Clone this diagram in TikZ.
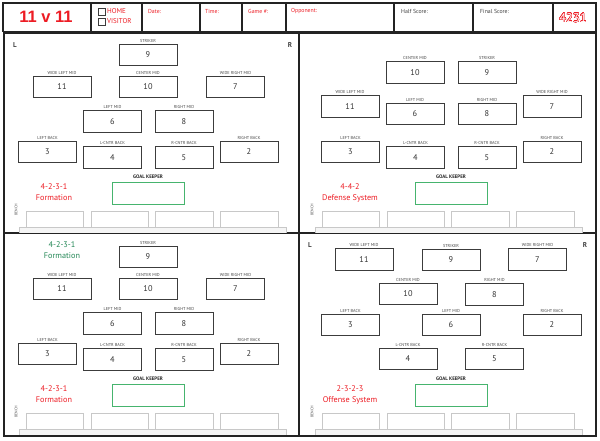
\documentclass[tikz,border=0pt]{standalone}
\usepackage{fontspec}
\setmainfont{PT Sans}
\newfontfamily\titlefont{Liberation Sans}
\usepackage{contour}
\contourlength{0.3pt}
\contournumber{24}
\definecolor{fred}{RGB}{237,28,36}
\definecolor{fgreen}{RGB}{70,180,110}
\definecolor{tgreen}{RGB}{35,135,85}
\definecolor{boxgray}{RGB}{60,60,60}
\definecolor{labgray}{RGB}{70,70,70}
\definecolor{benchgray}{RGB}{200,200,200}
\definecolor{framegray}{RGB}{35,35,35}
\tikzset{
  pbox/.style={draw=boxgray,line width=0.7pt,minimum width=58pt,minimum height=21.5pt,inner sep=0pt,
    font=\fontsize{8.3}{8}\selectfont,text=black!80},
  plabel/.style={font=\fontsize{4.3}{4.5}\selectfont,text=labgray,inner sep=0.5pt},
  gkbox/.style={draw=fgreen,line width=0.8pt,minimum width=72pt,minimum height=22pt,inner sep=0pt},
  gklabel/.style={font=\bfseries\fontsize{5}{5}\selectfont,text=black!85,inner sep=0.5pt},
  formtext/.style={align=center,font=\fontsize{8.2}{11}\selectfont,inner sep=0pt},
  benchbox/.style={draw=benchgray,line width=0.6pt,fill=white},
  benchbar/.style={draw=benchgray,line width=0.6pt,fill=black!4},
  benchtxt/.style={font=\fontsize{3.7}{4}\selectfont,text=labgray,rotate=90,inner sep=0pt},
  hdrtxt/.style={font=\fontsize{5.8}{6}\selectfont,anchor=west,inner sep=0pt},
  lrtxt/.style={font=\bfseries\fontsize{7}{7}\selectfont,text=black!75,inner sep=0pt},
  frame/.style={draw=framegray,line width=1.3pt},
}
\newcommand\pb[5]{\node[pbox,label={[plabel,label distance=0.8pt]above:#4}] (#1) at (#2,#3) {#5};}
\newcommand\gk[3]{\node[gkbox,label={[gklabel,label distance=2pt]above:GOAL KEEPER}] (#1) at (#2,#3) {};}
\newcommand\bench[3]{% name, x-offset, y-offset
  \begin{scope}[shift={(#2,#3)}]
    \draw[benchbox] (26,227) -- (26,211) -- (83,211) -- (83,227);
    \draw[benchbox] (91,227) -- (91,211) -- (148,211) -- (148,227);
    \draw[benchbox] (155,227) -- (155,211) -- (213,211) -- (213,227);
    \draw[benchbox] (220,227) -- (220,211) -- (278,211) -- (278,227);
    \draw[benchbar] (19,232.5) -- (19,227) -- (286,227) -- (286,232.5);
    \node[benchtxt] (#1) at (16,210) {BENCH};
  \end{scope}}
\begin{document}
\begin{tikzpicture}[x=1pt,y=-1pt]
\useasboundingbox[fill=white] (0,0) rectangle (600,440);

% ---------- header ----------
\draw[frame] (3,3) rectangle (596,31.5);
\foreach \xx in {91,142,200,242,286,394,473,553} \draw[frame] (\xx,3) -- (\xx,31.5);
\node[font=\titlefont\bfseries\fontsize{16.5}{16}\selectfont,text=fred] (title) at (46,16.5) {11\hspace{4.5pt}v\hspace{4.5pt}11};
\node[draw=boxgray,line width=0.5pt,minimum size=7pt,inner sep=0pt] (homebox) at (102,11.5) {};
\node[draw=boxgray,line width=0.5pt,minimum size=7pt,inner sep=0pt] (visbox) at (102,21.5) {};
\node[font=\fontsize{7}{7}\selectfont,text=fred,anchor=west,inner sep=0pt] (home) at (107,11.5) {HOME};
\node[font=\fontsize{7}{7}\selectfont,text=fred,anchor=west,inner sep=0pt] (visitor) at (107,21.5) {VISITOR};
\node[hdrtxt,text=fred] (date) at (148,11) {Date:};
\node[hdrtxt,text=fred] (time) at (205,11) {Time:};
\node[hdrtxt,text=fred] (game) at (248,11) {Game \#:};
\node[hdrtxt,text=fred] (opp) at (291,11) {Opponent:};
\node[hdrtxt,text=black!75] (half) at (401,11) {Half Score:};
\node[hdrtxt,text=black!75] (final) at (480,11) {Final Score:};
\node[font=\fontsize{12.5}{12}\selectfont,inner sep=0pt] (num) at (573,18) {\contour{fred}{\textcolor{white}{4231}}};

% ---------- quadrant frame ----------
\draw[frame] (4,33) rectangle (596,436);
\draw[frame] (299,33) -- (299,436);
\draw[frame] (4,233) -- (596,233);

% ---------- benches ----------
\bench{benchTL}{0}{0}
\bench{benchTR}{296}{0}
\bench{benchBL}{0}{202}
\bench{benchBR}{296}{202}

% ---------- top-left ----------
\node[lrtxt] (tlL) at (15,45) {L};
\node[lrtxt] (tlR) at (290,45) {R};
\pb{tl9}{148}{55}{STRIKER}{9}
\pb{tl11}{62}{87}{WIDE LEFT MID}{11}
\pb{tl10}{148}{87}{CENTER MID}{10}
\pb{tl7}{235.5}{87}{WIDE RIGHT MID}{7}
\pb{tl6}{112.5}{121.5}{LEFT MID}{6}
\pb{tl8}{184}{121.5}{RIGHT MID}{8}
\pb{tl3}{47.5}{152}{LEFT BACK}{3}
\pb{tl4}{112.5}{157.5}{L-CNTR BACK}{4}
\pb{tl5}{184}{157.5}{R-CNTR BACK}{5}
\pb{tl2}{249}{152}{RIGHT BACK}{2}
\gk{tlgk}{148}{193}
\node[formtext,text=fred] (tlform) at (54,192.5) {4-2-3-1\\Formation};

% ---------- top-right ----------
\pb{tr10}{415}{72.5}{CENTER MID}{10}
\pb{tr9}{487}{72.5}{STRIKER}{9}
\pb{tr11}{350}{106.5}{WIDE LEFT MID}{11}
\pb{tr7}{552}{106.5}{WIDE RIGHT MID}{7}
\pb{tr6}{415}{114}{LEFT MID}{6}
\pb{tr8}{487}{114}{RIGHT MID}{8}
\pb{tr3}{350.5}{152}{LEFT BACK}{3}
\pb{tr4}{415.5}{157.5}{L-CNTR BACK}{4}
\pb{tr5}{487}{157.5}{R-CNTR BACK}{5}
\pb{tr2}{552}{152}{RIGHT BACK}{2}
\gk{trgk}{451}{193}
\node[formtext,text=fred] (trform) at (350,192.5) {4-4-2\\Defense System};

% ---------- bottom-left ----------
\node[formtext,text=tgreen] (blform1) at (62,250) {4-2-3-1\\Formation};
\pb{bl9}{148}{257}{STRIKER}{9}
\pb{bl11}{62}{289}{WIDE LEFT MID}{11}
\pb{bl10}{148}{289}{CENTER MID}{10}
\pb{bl7}{235.5}{289}{WIDE RIGHT MID}{7}
\pb{bl6}{112.5}{323.5}{LEFT MID}{6}
\pb{bl8}{184}{323.5}{RIGHT MID}{8}
\pb{bl3}{47.5}{354}{LEFT BACK}{3}
\pb{bl4}{112.5}{359.5}{L-CNTR BACK}{4}
\pb{bl5}{184}{359.5}{R-CNTR BACK}{5}
\pb{bl2}{249}{354}{RIGHT BACK}{2}
\gk{blgk}{148}{395}
\node[formtext,text=fred] (blform) at (54,394.5) {4-2-3-1\\Formation};

% ---------- bottom-right ----------
\node[lrtxt] (brL) at (310,245) {L};
\node[lrtxt] (brR) at (585,245) {R};
\pb{br11}{364}{259.5}{WIDE LEFT MID}{11}
\pb{br9}{451}{260}{STRIKER}{9}
\pb{br7}{537.5}{259.5}{WIDE RIGHT MID}{7}
\pb{br10}{408}{294}{CENTER MID}{10}
\pb{br8}{494.5}{294.5}{RIGHT MID}{8}
\pb{br3}{350.5}{325}{LEFT BACK}{3}
\pb{br6}{451}{325}{LEFT MID}{6}
\pb{br2}{552}{325}{RIGHT BACK}{2}
\pb{br4}{408}{359}{L-CNTR BACK}{4}
\pb{br5}{494.5}{359}{R-CNTR BACK}{5}
\gk{brgk}{451}{395}
\node[formtext,text=fred] (brform) at (350,394.5) {2-3-2-3\\Offense System};
\end{tikzpicture}
\end{document}
